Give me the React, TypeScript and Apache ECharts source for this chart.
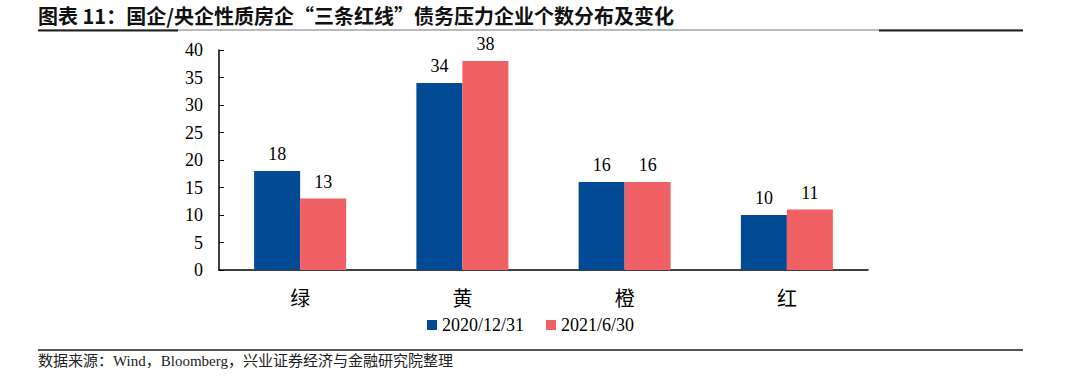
import React, { useEffect, useRef } from "react";
import * as echarts from "echarts";

const categories = ["绿", "黄", "橙", "红"];
const series2020 = [18, 34, 16, 10];
const series2021 = [13, 38, 16, 11];
const seriesNames = ["2020/12/31", "2021/6/30"];
const yTicks = { min: 0, max: 40, interval: 5 };

const titleText = "图表 11：国企/央企性质房企“三条红线”债务压力企业个数分布及变化";
const sourceText = "数据来源：Wind，Bloomberg，兴业证券经济与金融研究院整理";

const SERIF = "'Liberation Serif', 'Times New Roman', 'Noto Sans CJK SC', serif";

export default function App() {
  const ref = useRef<HTMLDivElement>(null);
  useEffect(() => {
    if (!ref.current) return;
    const chart = echarts.init(ref.current, null, { renderer: "svg" });
    chart.setOption({
      animation: false,
      backgroundColor: "#ffffff",
      grid: { left: 219, right: 212, top: 50, bottom: 113, containLabel: false },
      legend: {
        data: seriesNames,
        left: 422,
        top: 311,
        icon: "rect",
        itemWidth: 10,
        itemHeight: 10,
        itemGap: 22,
        textStyle: { fontFamily: SERIF, fontSize: 18, color: "#000" },
      },
      xAxis: {
        type: "category",
        data: categories,
        axisLine: { lineStyle: { color: "#000", width: 1.5 } },
        axisTick: { show: false },
        axisLabel: {
          fontFamily: "'Noto Sans CJK SC', sans-serif",
          fontSize: 20,
          color: "#000",
          margin: 17,
        },
      },
      yAxis: {
        type: "value",
        min: yTicks.min,
        max: yTicks.max,
        interval: yTicks.interval,
        splitLine: { show: false },
        axisLine: { show: true, lineStyle: { color: "#000", width: 1.5 } },
        axisTick: { show: true, inside: true, length: 5, lineStyle: { color: "#000" } },
        axisLabel: { fontFamily: SERIF, fontSize: 18, color: "#000", margin: 16 },
      },
      series: [
        {
          name: seriesNames[0],
          type: "bar",
          data: series2020,
          barWidth: 46,
          barGap: "0%",
          itemStyle: { color: "#024B94" },
          label: { show: true, position: "top", distance: 8, fontFamily: SERIF, fontSize: 18, color: "#000" },
        },
        {
          name: seriesNames[1],
          type: "bar",
          data: series2021,
          barWidth: 46,
          barGap: "0%",
          itemStyle: { color: "#EF6164" },
          label: { show: true, position: "top", distance: 8, fontFamily: SERIF, fontSize: 18, color: "#000" },
        },
      ],
      graphic: [
        {
          type: "text",
          left: 38,
          top: 5,
          style: {
            text: titleText,
            font: "bold 20px 'Noto Sans CJK SC', sans-serif",
            fill: "#111",
          },
        },
        { type: "line", shape: { x1: 38, y1: 30, x2: 1023, y2: 30 }, style: { stroke: "#777", lineWidth: 1 } },
        { type: "line", shape: { x1: 38, y1: 30.5, x2: 178, y2: 30.5 }, style: { stroke: "#222", lineWidth: 2 } },
        { type: "line", shape: { x1: 879, y1: 30.5, x2: 1023, y2: 30.5 }, style: { stroke: "#222", lineWidth: 2 } },
        { type: "line", shape: { x1: 38, y1: 350, x2: 1023, y2: 350 }, style: { stroke: "#555", lineWidth: 2 } },
        {
          type: "text",
          left: 38,
          top: 353,
          style: {
            text: sourceText,
            font: "15px 'Liberation Serif', 'Noto Sans CJK SC', serif",
            fill: "#222",
          },
        },
      ],
    });
    return () => chart.dispose();
  }, []);
  return <div ref={ref} style={{ width: 1080, height: 383, position: "absolute", left: 0, top: 0 }} />;
}
